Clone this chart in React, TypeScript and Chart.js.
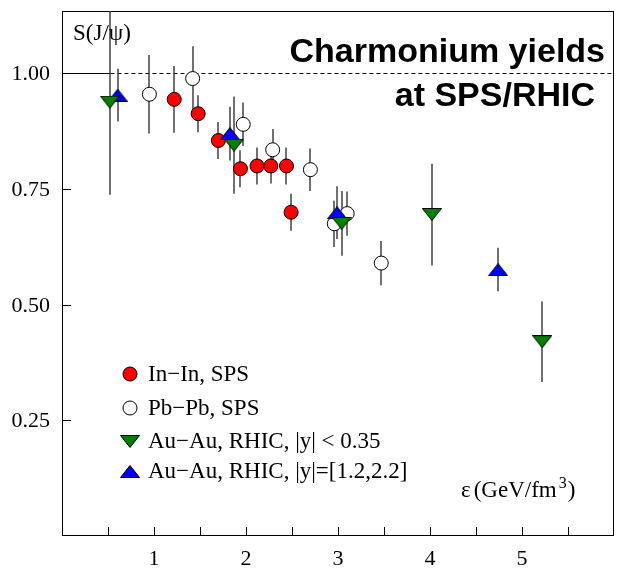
import React, { useEffect, useRef } from 'react';
import { Chart, registerables } from 'chart.js';

Chart.register(...registerables);

// In-In collisions at the SPS
const inInEps = [1.22, 1.48, 1.70, 1.94, 2.12, 2.27, 2.44, 2.49];
const inInS = [0.944, 0.913, 0.855, 0.794, 0.800, 0.800, 0.800, 0.700];
const inInErr = [0.072, 0.04, 0.04, 0.04, 0.04, 0.038, 0.04, 0.04];

// Pb-Pb collisions at the SPS
const pbPbEps = [0.95, 1.42, 1.97, 2.29, 2.70, 2.96, 3.10, 3.47];
const pbPbS = [0.955, 0.989, 0.890, 0.835, 0.792, 0.675, 0.697, 0.590];
const pbPbErr = [0.085, 0.07, 0.047, 0.045, 0.046, 0.05, 0.048, 0.048];

// Au-Au at RHIC, mid rapidity
const auMidEps = [0.52, 1.87, 3.04, 4.02, 5.22];
const auMidS = [0.938, 0.845, 0.676, 0.695, 0.420];
const auMidErr = [0.2, 0.105, 0.07, 0.11, 0.087];

// Au-Au at RHIC, forward rapidity
const auFwdEps = [0.605, 1.825, 2.99, 4.74];
const auFwdS = [0.953, 0.870, 0.699, 0.576];
const auFwdErr = [0.057, 0.058, 0.057, 0.047];

const seriesLabels = [
  'In\u2212In, SPS',
  'Pb\u2212Pb, SPS',
  'Au\u2212Au, RHIC, |y| < 0.35',
  'Au\u2212Au, RHIC, |y|=[1.2,2.2]',
];

const xTicks = [0.5, 1, 1.5, 2, 2.5, 3, 3.5, 4, 4.5, 5, 5.5];
const xLabelTicks = [1, 2, 3, 4, 5];
const yTicks = [0.25, 0.5, 0.75, 1.0];

const SERIF = '"Liberation Serif", "Times New Roman", serif';
const SANS = '"Liberation Sans", Arial, sans-serif';

function triangleMarker(color: string, down: boolean): HTMLCanvasElement {
  const w = 20;
  const h = 13;
  const c = document.createElement('canvas');
  c.width = w;
  c.height = h;
  const g = c.getContext('2d')!;
  g.beginPath();
  if (down) {
    g.moveTo(0.5, 0.5);
    g.lineTo(w - 0.5, 0.5);
    g.lineTo(w / 2, h - 0.5);
  } else {
    g.moveTo(w / 2, 0.5);
    g.lineTo(w - 0.5, h - 0.5);
    g.lineTo(0.5, h - 0.5);
  }
  g.closePath();
  g.fillStyle = color;
  g.fill();
  g.strokeStyle = '#000';
  g.lineWidth = 1;
  g.stroke();
  return c;
}

const toPoints = (xs: number[], ys: number[]) => xs.map((x, i) => ({ x, y: ys[i] }));

export default function App() {
  const canvasRef = useRef<HTMLCanvasElement | null>(null);

  useEffect(() => {
    const canvas = canvasRef.current;
    if (!canvas) return;

    const greenDown = triangleMarker('#008000', true);
    const blueUp = triangleMarker('#0000ff', false);
    const errors = [inInErr, pbPbErr, auMidErr, auFwdErr];

    const legendMarkers: Array<(ctx: CanvasRenderingContext2D, x: number, y: number) => void> = [
      (ctx, x, y) => {
        ctx.beginPath();
        ctx.arc(x, y, 7, 0, Math.PI * 2);
        ctx.fillStyle = '#ff0000';
        ctx.fill();
        ctx.strokeStyle = '#000';
        ctx.lineWidth = 1;
        ctx.stroke();
      },
      (ctx, x, y) => {
        ctx.beginPath();
        ctx.arc(x, y, 7, 0, Math.PI * 2);
        ctx.fillStyle = '#ffffff';
        ctx.fill();
        ctx.strokeStyle = '#000';
        ctx.lineWidth = 1;
        ctx.stroke();
      },
      (ctx, x, y) => ctx.drawImage(greenDown, Math.round(x - greenDown.width / 2), Math.round(y - greenDown.height / 2)),
      (ctx, x, y) => ctx.drawImage(blueUp, Math.round(x - blueUp.width / 2), Math.round(y - blueUp.height / 2)),
    ];

    const framePlugin = {
      id: 'frameAndBars',
      beforeDatasetsDraw(chart: any) {
        const { ctx, chartArea: a, scales } = chart;
        const xs = scales.x;
        const ys = scales.y;
        ctx.save();

        // frame
        ctx.strokeStyle = '#000';
        ctx.lineWidth = 1;
        ctx.strokeRect(a.left + 0.5, a.top + 0.5, a.right - a.left - 1, a.bottom - a.top - 1);

        // inward tick marks
        ctx.beginPath();
        xTicks.forEach((t) => {
          const px = Math.round(xs.getPixelForValue(t)) + 0.5;
          ctx.moveTo(px, a.bottom);
          ctx.lineTo(px, a.bottom - 9);
        });
        yTicks.forEach((t) => {
          const py = Math.round(ys.getPixelForValue(t)) + 0.5;
          ctx.moveTo(a.left, py);
          ctx.lineTo(a.left + 9, py);
        });
        ctx.stroke();

        // tick labels
        ctx.fillStyle = '#000';
        ctx.font = `22px ${SERIF}`;
        ctx.textAlign = 'right';
        ctx.textBaseline = 'middle';
        yTicks.forEach((t) => {
          ctx.fillText(t.toFixed(2), a.left - 12, ys.getPixelForValue(t) + 1);
        });
        ctx.textAlign = 'center';
        xLabelTicks.forEach((t) => {
          ctx.fillText(String(t), xs.getPixelForValue(t), a.bottom + 23);
        });

        // unity reference line
        const yOne = Math.round(ys.getPixelForValue(1)) + 0.5;
        const xBreak = xs.getPixelForValue(0.57);
        ctx.beginPath();
        ctx.moveTo(a.left, yOne);
        ctx.lineTo(xBreak, yOne);
        ctx.stroke();
        ctx.setLineDash([4, 3]);
        ctx.beginPath();
        ctx.moveTo(xBreak + 3, yOne);
        ctx.lineTo(a.right, yOne);
        ctx.stroke();
        ctx.setLineDash([]);

        // error bars, clipped to the plot area
        ctx.beginPath();
        ctx.rect(a.left, a.top, a.right - a.left, a.bottom - a.top);
        ctx.clip();
        ctx.strokeStyle = '#404040';
        ctx.lineWidth = 1.5;
        chart.data.datasets.forEach((ds: any, di: number) => {
          ds.data.forEach((p: { x: number; y: number }, i: number) => {
            const e = errors[di][i];
            const px = Math.round(xs.getPixelForValue(p.x));
            ctx.beginPath();
            ctx.moveTo(px, ys.getPixelForValue(p.y + e));
            ctx.lineTo(px, ys.getPixelForValue(p.y - e));
            ctx.stroke();
          });
        });
        ctx.restore();
      },
      afterDraw(chart: any) {
        const { ctx } = chart;
        ctx.save();
        ctx.fillStyle = '#000';

        // title
        ctx.font = `bold 34px ${SANS}`;
        ctx.textAlign = 'right';
        ctx.textBaseline = 'alphabetic';
        ctx.fillText('Charmonium yields', 605, 62);
        ctx.fillText('at SPS/RHIC', 595, 106);

        // axis titles
        ctx.textAlign = 'left';
        ctx.font = `23px ${SERIF}`;
        ctx.fillText('S(J/\u03c8)', 73, 40);

        ctx.font = `23px ${SERIF}`;
        let tx = 461;
        const ty = 497;
        ctx.fillText('\u03b5', tx, ty);
        tx += ctx.measureText('\u03b5').width + 3;
        ctx.fillText('(GeV/fm', tx, ty);
        tx += ctx.measureText('(GeV/fm').width + 2;
        ctx.font = `16px ${SERIF}`;
        ctx.fillText('3', tx, ty - 9);
        tx += ctx.measureText('3').width + 1;
        ctx.font = `23px ${SERIF}`;
        ctx.fillText(')', tx, ty);

        // legend
        const rows = [374, 408, 441, 471];
        ctx.font = `23px ${SERIF}`;
        ctx.textBaseline = 'middle';
        rows.forEach((ry, i) => {
          legendMarkers[i](ctx, 130, ry);
          ctx.fillStyle = '#000';
          ctx.fillText(seriesLabels[i], 148, ry + 1);
        });
        ctx.restore();
      },
    };

    const chart = new Chart(canvas, {
      type: 'scatter',
      data: {
        datasets: [
          {
            label: seriesLabels[0],
            data: toPoints(inInEps, inInS),
            pointStyle: 'circle',
            pointRadius: 7,
            pointBackgroundColor: '#ff0000',
            pointBorderColor: '#000',
            pointBorderWidth: 1,
            order: 2,
          },
          {
            label: seriesLabels[1],
            data: toPoints(pbPbEps, pbPbS),
            pointStyle: 'circle',
            pointRadius: 7,
            pointBackgroundColor: '#ffffff',
            pointBorderColor: '#000',
            pointBorderWidth: 1,
            order: 3,
          },
          {
            label: seriesLabels[2],
            data: toPoints(auMidEps, auMidS),
            pointStyle: greenDown,
            pointRadius: 10,
            order: 0,
          },
          {
            label: seriesLabels[3],
            data: toPoints(auFwdEps, auFwdS),
            pointStyle: blueUp,
            pointRadius: 10,
            order: 1,
          },
        ],
      },
      options: {
        responsive: false,
        animation: false,
        devicePixelRatio: 1,
        layout: { padding: { top: 8, right: 5, left: 62, bottom: 42 } },
        plugins: {
          legend: { display: false },
          tooltip: { enabled: false },
          title: { display: false },
        },
        scales: {
          x: { type: 'linear', min: 0, max: 6, display: false },
          y: { type: 'linear', min: 0, max: 1.135, display: false },
        },
      },
      plugins: [framePlugin],
    });

    return () => chart.destroy();
  }, []);

  return (
    <div style={{ position: 'absolute', left: 0, top: 0, width: 625, height: 578, background: '#fff' }}>
      <canvas ref={canvasRef} width={625} height={578} style={{ display: 'block' }} />
    </div>
  );
}
